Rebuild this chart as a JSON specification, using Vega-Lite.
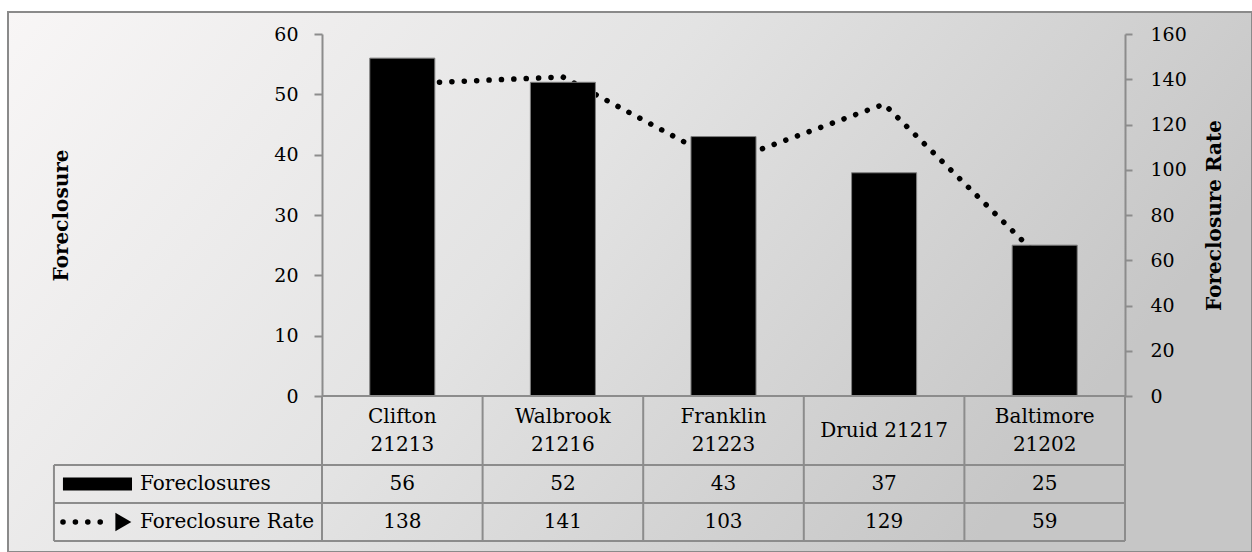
{
  "$schema": "https://vega.github.io/schema/vega-lite/v6.json",
  "autosize": "none",
  "width": 1244,
  "height": 540,
  "padding": {"left": 8, "top": 12, "right": 0, "bottom": 0},
  "background": "white",
  "config": {
    "view": {
      "fill": {"gradient": "linear", "x1": 0, "y1": 0, "x2": 1, "y2": 0.35,
        "stops": [{"offset": 0, "color": "#f8f6f6"}, {"offset": 0.5, "color": "#e3e3e3"}, {"offset": 1, "color": "#c6c6c6"}]},
      "stroke": "#8a8a8a",
      "strokeWidth": 2
    },
    "text": {"font": "DejaVu Serif", "fontSize": 20, "color": "#000000"},
    "axis": {
      "labelFont": "DejaVu Serif", "labelFontSize": 19, "labelColor": "#000000",
      "titleFont": "DejaVu Serif", "titleFontSize": 20, "titleFontWeight": "bold", "titleColor": "#000000",
      "domainColor": "#8c8c8c", "domainWidth": 2, "tickColor": "#8c8c8c", "tickWidth": 2, "grid": false
    }
  },
  "data": {
    "values": [
      {"zone": "Clifton\n21213", "fc": 56, "rate": 138},
      {"zone": "Walbrook\n21216", "fc": 52, "rate": 141},
      {"zone": "Franklin\n21223", "fc": 43, "rate": 103},
      {"zone": "Druid 21217", "fc": 37, "rate": 129},
      {"zone": "Baltimore\n21202", "fc": 25, "rate": 59}
    ]
  },
  "layer": [
    {
      "mark": {"type": "line", "color": "#000000", "strokeWidth": 5.5, "strokeCap": "round", "strokeDash": [0.1, 12.3]},
      "encoding": {
        "x": {"field": "zone", "type": "nominal", "sort": null, "axis": null,
          "scale": {"range": [314, 1117], "paddingInner": 0, "paddingOuter": 0}},
        "y": {"field": "rate", "type": "quantitative",
          "scale": {"domain": [0, 160], "range": [384, 22], "nice": false},
          "axis": {"orient": "right", "offset": -127, "values": [0, 20, 40, 60, 80, 100, 120, 140, 160],
            "tickSize": 7, "labelPadding": 18, "title": "Foreclosure Rate",
            "titleX": 95, "titleY": 203, "titleAngle": 270, "titleAlign": "center", "titleBaseline": "alphabetic"}}
      }
    },
    {
      "encoding": {
        "x": {"field": "zone", "type": "nominal", "sort": null, "axis": null,
          "scale": {"range": [314, 1117], "paddingInner": 0, "paddingOuter": 0}}
      },
      "layer": [
        {
          "mark": {"type": "bar", "width": {"band": 0.405}, "color": "#000000", "stroke": "#7f7f7f", "strokeWidth": 1},
          "encoding": {
            "y": {"field": "fc", "type": "quantitative", "title": "Foreclosure",
              "scale": {"domain": [0, 60], "range": [384, 22], "nice": false},
              "axis": {"orient": "left", "offset": -314, "values": [0, 10, 20, 30, 40, 50, 60],
                "tickSize": 8, "labelPadding": 16, "title": "Foreclosure",
                "titleX": -255, "titleY": 203, "titleAngle": 270, "titleAlign": "center", "titleBaseline": "alphabetic"}}
          }
        },
        {
          "mark": {"type": "rule", "color": "#8c8c8c", "strokeWidth": 2},
          "encoding": {
            "x": {"field": "zone", "type": "nominal", "sort": null, "bandPosition": 0},
            "y": {"datum": 0, "type": "quantitative"},
            "y2": {"datum": -24.03}
          }
        },
        {
          "transform": [{"filter": "indexof(datum.zone, '\\n') >= 0"}],
          "mark": {"type": "text", "align": "center", "baseline": "middle", "lineBreak": "\n", "lineHeight": 28},
          "encoding": {
            "text": {"field": "zone"},
            "y": {"datum": -3.40, "type": "quantitative"}
          }
        },
        {
          "transform": [{"filter": "indexof(datum.zone, '\\n') < 0"}],
          "mark": {"type": "text", "align": "center", "baseline": "middle"},
          "encoding": {
            "text": {"field": "zone"},
            "y": {"datum": -5.72, "type": "quantitative"}
          }
        },
        {
          "mark": {"type": "text", "align": "center", "baseline": "middle"},
          "encoding": {
            "text": {"field": "fc"},
            "y": {"datum": -14.59, "type": "quantitative"}
          }
        },
        {
          "mark": {"type": "text", "align": "center", "baseline": "middle"},
          "encoding": {
            "text": {"field": "rate"},
            "y": {"datum": -20.88, "type": "quantitative"}
          }
        }
      ]
    },
    {
      "data": {"values": [{}]},
      "encoding": {
        "x": {"datum": -1.669, "type": "quantitative", "axis": null,
          "scale": {"domain": [0, 5], "range": [314, 1117], "nice": false, "zero": false}},
        "y": {"datum": 0, "type": "quantitative", "axis": null,
          "scale": {"domain": [0, 60], "range": [384, 22], "nice": false, "zero": false}}
      },
      "layer": [
        {"mark": {"type": "rule", "color": "#8c8c8c", "strokeWidth": 2},
         "encoding": {"x": {"datum": 0, "type": "quantitative"}, "x2": {"datum": 5}, "y": {"datum": 0, "type": "quantitative"}}},
        {"mark": {"type": "rule", "color": "#8c8c8c", "strokeWidth": 2},
         "encoding": {"x": {"datum": -1.669, "type": "quantitative"}, "x2": {"datum": 5}, "y": {"datum": -11.44, "type": "quantitative"}}},
        {"mark": {"type": "rule", "color": "#8c8c8c", "strokeWidth": 2},
         "encoding": {"x": {"datum": -1.669, "type": "quantitative"}, "x2": {"datum": 5}, "y": {"datum": -17.73, "type": "quantitative"}}},
        {"mark": {"type": "rule", "color": "#8c8c8c", "strokeWidth": 2},
         "encoding": {"x": {"datum": -1.669, "type": "quantitative"}, "x2": {"datum": 5}, "y": {"datum": -24.03, "type": "quantitative"}}},
        {"mark": {"type": "rule", "color": "#8c8c8c", "strokeWidth": 2},
         "encoding": {"x": {"datum": -1.669, "type": "quantitative"}, "y": {"datum": -11.44, "type": "quantitative"}, "y2": {"datum": -24.03}}},
        {"mark": {"type": "rule", "color": "#8c8c8c", "strokeWidth": 2},
         "encoding": {"x": {"datum": 5, "type": "quantitative"}, "y": {"datum": 0, "type": "quantitative"}, "y2": {"datum": -24.03}}},
        {"mark": {"type": "rect", "color": "#000000"},
         "encoding": {"x": {"datum": -1.613, "type": "quantitative"}, "x2": {"datum": -1.183}, "y": {"datum": -13.51, "type": "quantitative"}, "y2": {"datum": -15.67}}},
        {"mark": {"type": "rule", "color": "#000000", "strokeWidth": 5.5, "strokeCap": "round", "strokeDash": [0.1, 12.3]},
         "encoding": {"x": {"datum": -1.613, "type": "quantitative"}, "x2": {"datum": -1.33}, "y": {"datum": -20.88, "type": "quantitative"}}},
        {"mark": {"type": "point", "shape": "triangle-right", "filled": true, "color": "#000000", "size": 340, "opacity": 1},
         "encoding": {"x": {"datum": -1.237, "type": "quantitative"}, "y": {"datum": -20.88, "type": "quantitative"}}},
        {"mark": {"type": "text", "align": "left", "baseline": "middle", "text": "Foreclosures"},
         "encoding": {"x": {"datum": -1.133, "type": "quantitative"}, "y": {"datum": -14.59, "type": "quantitative"}}},
        {"mark": {"type": "text", "align": "left", "baseline": "middle", "text": "Foreclosure Rate"},
         "encoding": {"x": {"datum": -1.133, "type": "quantitative"}, "y": {"datum": -20.88, "type": "quantitative"}}}
      ]
    }
  ],
  "resolve": {"scale": {"x": "independent", "y": "independent"}}
}
